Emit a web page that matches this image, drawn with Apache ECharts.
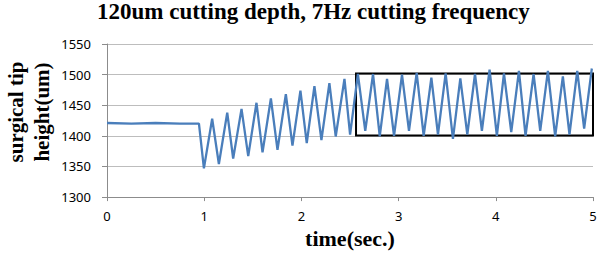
<!DOCTYPE html>
<html>
<head>
<meta charset="utf-8">
<script src="https://cdn.jsdelivr.net/npm/echarts@6/dist/echarts.min.js"></script>
<style>
  html, body { margin: 0; padding: 0; background: #fff; }
  #chart { width: 602px; height: 254px; }
</style>
</head>
<body>
<div id="chart"></div>
<script>
// vertices of the tip height trace (time in sec, height in um)
const timeSec = [
  0, 0.25, 0.5, 0.75, 0.946, 0.997, 1.082, 1.151, 1.237, 1.298,
  1.384, 1.453, 1.538, 1.600, 1.686, 1.754, 1.840, 1.908, 1.990, 2.055,
  2.134, 2.206, 2.288, 2.353, 2.443, 2.501, 2.581, 2.657, 2.737, 2.806,
  2.881, 2.953, 3.035, 3.107, 3.186, 3.258, 3.337, 3.405, 3.484, 3.559,
  3.635, 3.707, 3.786, 3.857, 3.936, 4.011, 4.084, 4.159, 4.238, 4.306,
  4.389, 4.457, 4.536, 4.611, 4.690, 4.758, 4.838, 4.909, 4.988
]
const heightUm = [
  1421, 1420, 1421, 1420, 1420, 1347, 1428, 1354, 1438, 1363,
  1444, 1367, 1454, 1373, 1461, 1377, 1468, 1384, 1474, 1388,
  1481, 1393, 1486, 1399, 1493, 1402, 1501, 1408, 1501, 1399,
  1493, 1400, 1500, 1408, 1503, 1400, 1495, 1402, 1502, 1395,
  1494, 1402, 1501, 1408, 1508, 1400, 1502, 1406, 1506, 1400,
  1501, 1408, 1506, 1399, 1497, 1402, 1506, 1412, 1510
]
// highlighted steady-state box: [time, height] corners
const boxStart = [2.562, 1400.5]
const boxEnd = [5, 1502]

const chart = echarts.init(document.getElementById('chart'), null, { renderer: 'svg' })

const serif = '"Liberation Serif", "Times New Roman", serif'
const sans = '"Noto Sans", sans-serif'

chart.setOption({
  animation: false,
  backgroundColor: '#fff',
  title: {
    text: '120um cutting depth, 7Hz cutting frequency',
    left: 97,
    top: 0,
    padding: 0,
    textStyle: { fontFamily: serif, fontWeight: 'bold', fontSize: 23, color: '#000' }
  },
  grid: { left: 107, right: 9, top: 44, bottom: 52.5 },
  xAxis: {
    type: 'value',
    min: 0,
    max: 5,
    interval: 1,
    name: 'time(sec.)',
    nameLocation: 'middle',
    nameGap: 17,
    nameTextStyle: { fontFamily: serif, fontWeight: 'bold', fontSize: 22, color: '#000' },
    axisLine: { lineStyle: { color: '#8c8c8c', width: 1 } },
    axisTick: { show: true, length: 4, lineStyle: { color: '#8c8c8c' } },
    axisLabel: { margin: 12, fontFamily: sans, fontSize: 13, color: '#000' },
    splitLine: { show: false }
  },
  yAxis: {
    type: 'value',
    min: 1300,
    max: 1550,
    interval: 50,
    axisLine: { show: true, lineStyle: { color: '#8c8c8c', width: 1 } },
    axisTick: { show: true, length: 5, lineStyle: { color: '#8c8c8c' } },
    axisLabel: { margin: 16, fontFamily: sans, fontSize: 13, color: '#000', formatter: v => String(v) },
    splitLine: { lineStyle: { color: '#bdbdbd', width: 1 } }
  },
  graphic: [{
    type: 'text',
    x: 29,
    y: 112,
    rotation: Math.PI / 2,
    style: {
      text: 'surgical tip\nheight(um)',
      font: 'bold 21px ' + serif,
      fill: '#000',
      align: 'center',
      verticalAlign: 'middle',
      lineHeight: 26
    }
  }],
  series: [{
    type: 'line',
    data: timeSec.map((t, i) => [t, heightUm[i]]),
    showSymbol: false,
    lineStyle: { color: '#4a7ebb', width: 2.3 },
    markArea: {
      silent: true,
      itemStyle: { color: 'rgba(0,0,0,0)', borderColor: '#000', borderWidth: 2 },
      data: [[{ coord: boxStart }, { coord: boxEnd }]]
    }
  }]
})
</script>
</body>
</html>
